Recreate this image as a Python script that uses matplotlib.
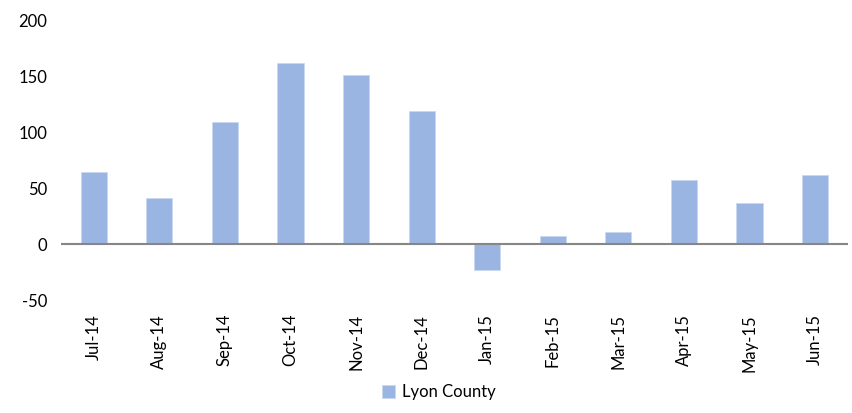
import matplotlib
matplotlib.use("Agg")
import matplotlib.pyplot as plt

months = ["Jul-14", "Aug-14", "Sep-14", "Oct-14", "Nov-14", "Dec-14",
          "Jan-15", "Feb-15", "Mar-15", "Apr-15", "May-15", "Jun-15"]
lyon_county = [64, 41, 109, 162, 151, 119, -23, 7, 11, 57, 37, 62]
yticks = [-50, 0, 50, 100, 150, 200]

plt.rcParams["font.family"] = ["Lato", "DejaVu Sans"]

fig = plt.figure(figsize=(8.53, 4.13), dpi=100)
ax = fig.add_axes([0.0715, 0.2736, 0.9225, 0.6774])

x = range(len(months))
ax.bar(x, lyon_county, width=0.4, color="#9BB5E3", edgecolor="#C9D7F0",
       linewidth=0.6, label="Lyon County", zorder=2)
ax.axhline(0, color="#868686", linewidth=1.5, zorder=3)

ax.set_xlim(-0.5, len(months) - 0.5)
ax.set_ylim(-50, 200)
ax.set_yticks(yticks)
ax.set_yticklabels([str(v) for v in yticks], fontsize=12)
ax.set_xticks(list(x))
ax.set_xticklabels(months, rotation=90, fontsize=12)
ax.tick_params(axis="y", length=0, pad=10)
ax.tick_params(axis="x", length=0, pad=10)
for s in ax.spines.values():
    s.set_visible(False)

fig.legend(loc="lower center", bbox_to_anchor=(0.514, -0.005), frameon=False,
           fontsize=12, handlelength=0.8, handleheight=0.8, handletextpad=0.4)

fig.savefig("out.png", dpi=100)
